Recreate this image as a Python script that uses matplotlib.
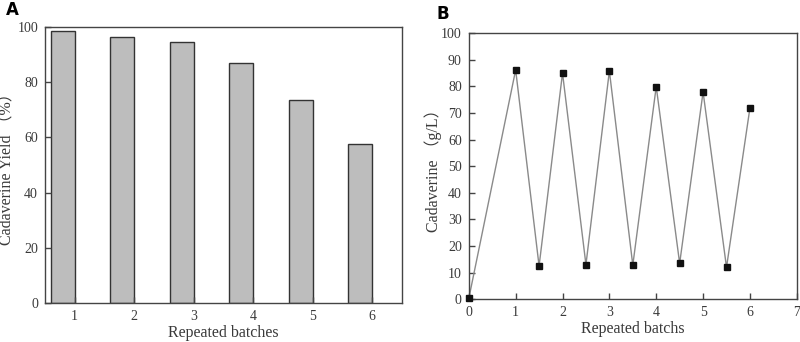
import numpy as np
import matplotlib
matplotlib.use('Agg')
import matplotlib.pyplot as plt

# Panel A data
batches = [1, 2, 3, 4, 5, 6]
yield_pct = [98.5, 96.4, 94.5, 87.0, 73.7, 57.7]

# Panel B data
time_b = [0, 1, 1.5, 2, 2.5, 3, 3.5, 4, 4.5, 5, 5.5, 6]
cadaverine = [0.3, 86.2, 12.5, 85.0, 13.0, 85.8, 12.8, 79.9, 13.5, 77.9, 12.0, 71.9]

FONT = ['Liberation Serif', 'Noto Sans CJK SC']
TXT = '#3a3a3a'
EDGE = '#444444'

fig = plt.figure(figsize=(8, 3.42), dpi=100)


def style_axes(ax):
    for s in ax.spines.values():
        s.set_color(EDGE)
        s.set_linewidth(1.0)
    ax.tick_params(direction='in', length=4, width=1, color=EDGE,
                   labelsize=10, labelcolor=TXT, pad=5)
    for lab in ax.get_xticklabels() + ax.get_yticklabels():
        lab.set_family(FONT)


# A: bar chart
ax1 = fig.add_axes([0.05625, 0.114, 0.446, 0.807])
ax1.bar(batches, yield_pct, width=-0.4, align='edge', color='#bdbdbd',
        edgecolor='#333333', linewidth=1.0)
ax1.set_xlim(0.5, 6.5)
ax1.set_ylim(0, 100)
ax1.set_xticks(batches)
ax1.set_yticks(np.arange(0, 101, 20))
style_axes(ax1)
ax1.set_xlabel('Repeated batches', family=FONT, fontsize=11.5, color=TXT)
ax1.set_ylabel('Cadaverine Yield （%）', family=FONT, fontsize=11.5, color=TXT)
ax1.xaxis.set_label_coords(0.5, -0.078)
ax1.yaxis.set_label_coords(-0.084, 0.5)

# B: line chart
ax2 = fig.add_axes([0.586, 0.125, 0.41, 0.778])
ax2.plot(time_b, cadaverine, color='#8a8a8a', linewidth=1.0, zorder=2)
ax2.plot(time_b, cadaverine, linestyle='none', marker='s', markersize=4.5,
         color='#111111', zorder=3, clip_on=False)
ax2.set_xlim(0, 7)
ax2.set_ylim(0, 100)
ax2.set_xticks(range(0, 8))
ax2.set_yticks(range(0, 101, 10))
style_axes(ax2)
ax2.set_xlabel('Repeated batchs', family=FONT, fontsize=11.5, color=TXT)
ax2.set_ylabel('Cadaverine （g/L）', family=FONT, fontsize=11.5, color=TXT)
ax2.xaxis.set_label_coords(0.5, -0.082)
ax2.yaxis.set_label_coords(-0.081, 0.5)

fig.text(0.008, 0.955, 'A', fontsize=12, fontweight='bold', family='DejaVu Sans')
fig.text(0.546, 0.945, 'B', fontsize=12, fontweight='bold', family='DejaVu Sans')

fig.savefig('out.png', dpi=100)
